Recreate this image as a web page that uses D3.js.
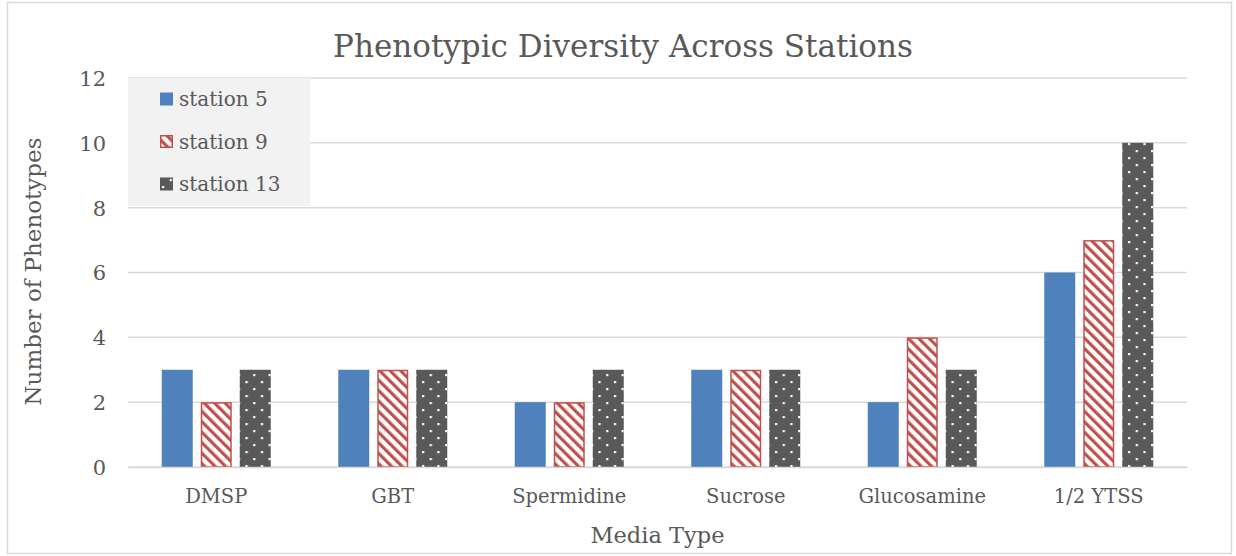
<!DOCTYPE html>
<html>
<head>
<meta charset="utf-8">
<script src="https://cdn.jsdelivr.net/npm/d3@7"></script>
<style>
  html, body { margin: 0; padding: 0; background: #fff; }
  svg { display: block; }
  text { font-family: "DejaVu Serif", "Liberation Serif", serif; fill: #595959; }
</style>
</head>
<body>
<svg id="chart" width="1236" height="556"></svg>
<script>
// Media types along the x axis
const categories = ["DMSP", "GBT", "Spermidine", "Sucrose", "Glucosamine", "1/2 YTSS"];
// Series names
const seriesNames = ["station 5", "station 9", "station 13"];
// Phenotype counts per media type, one array per station
const station5 = [3, 3, 2, 3, 2, 6];
const station9 = [2, 3, 2, 3, 4, 7];
const station13 = [3, 3, 3, 3, 3, 10];
// Y axis ticks
const yTicks = [0, 2, 4, 6, 8, 10, 12];

const seriesValues = [station5, station9, station13];

const W = 1236, H = 556;
const margin = { left: 128, right: 49, top: 78, bottom: 89 };
const plotW = W - margin.left - margin.right;
const plotH = H - margin.top - margin.bottom;

const svg = d3.select("#chart");

// Fill patterns: red diagonal hatch and dark dotted
const defs = svg.append("defs");
const hatch = defs.append("pattern")
  .attr("id", "hatch")
  .attr("patternUnits", "userSpaceOnUse")
  .attr("width", 7.4).attr("height", 7.4)
  .attr("patternTransform", "rotate(-45)");
hatch.append("rect").attr("width", 7.4).attr("height", 7.4).attr("fill", "#ffffff");
hatch.append("rect").attr("x", 0).attr("width", 3.2).attr("height", 7.4).attr("fill", "#c0504d");

const dots = defs.append("pattern")
  .attr("id", "dots")
  .attr("patternUnits", "userSpaceOnUse")
  .attr("width", 15.4).attr("height", 14);
dots.append("rect").attr("width", 15.4).attr("height", 14).attr("fill", "#595959");
dots.append("rect").attr("x", 2).attr("y", 2).attr("width", 2.2).attr("height", 2.2).attr("fill", "#ffffff");
dots.append("rect").attr("x", 9.7).attr("y", 9).attr("width", 2.2).attr("height", 2.2).attr("fill", "#ffffff");

const styles = [
  { fill: "#4f81bd", stroke: "none" },
  { fill: "url(#hatch)", stroke: "#c0504d" },
  { fill: "url(#dots)", stroke: "none" }
];

// Chart frame
svg.append("rect")
  .attr("x", 7.5).attr("y", 2.5)
  .attr("width", 1224).attr("height", 551)
  .attr("fill", "#ffffff")
  .attr("stroke", "#d9d9d9").attr("stroke-width", 1.5);

const g = svg.append("g").attr("transform", `translate(${margin.left},${margin.top})`);

const x0 = d3.scaleBand().domain(categories).range([0, plotW]).paddingInner(0).paddingOuter(0);
const groupW = 109;
const x1 = d3.scaleBand().domain(seriesNames)
  .range([(x0.bandwidth() - groupW) / 2, (x0.bandwidth() + groupW) / 2])
  .paddingInner(8 / 39).paddingOuter(0);
const y = d3.scaleLinear().domain([0, 12]).range([plotH, 0]);

// Gridlines
g.append("g").selectAll("line").data(yTicks).join("line")
  .attr("x1", 0).attr("x2", plotW)
  .attr("y1", d => y(d)).attr("y2", d => y(d))
  .attr("stroke", "#d9d9d9").attr("stroke-width", 1.5);

// Y axis tick labels
const yAxis = g.append("g")
  .call(d3.axisLeft(y).tickValues(yTicks).tickSize(0).tickPadding(22).tickFormat(d3.format("d")));
yAxis.select(".domain").remove();
yAxis.selectAll("text")
  .style("font-size", "21px")
  .style("font-family", "DejaVu Serif")
  .attr("fill", "#595959")
  .attr("dy", "0.35em");

// Bars
const groups = g.append("g").selectAll("g").data(categories).join("g")
  .attr("transform", d => `translate(${x0(d)},0)`);
groups.selectAll("rect")
  .data((c, i) => seriesNames.map((s, j) => ({ s, j, v: seriesValues[j][i] })))
  .join("rect")
  .attr("x", d => x1(d.s) + (d.j === 1 ? 0.75 : 0))
  .attr("width", d => x1.bandwidth() - (d.j === 1 ? 1.5 : 0))
  .attr("y", d => y(d.v) + (d.j === 1 ? 0.75 : 0))
  .attr("height", d => y(0) - y(d.v) - (d.j === 1 ? 0.75 : 0))
  .attr("fill", d => styles[d.j].fill)
  .attr("stroke", d => styles[d.j].stroke)
  .attr("stroke-width", 1.5);

// X axis baseline and labels
const xAxis = g.append("g").attr("transform", `translate(0,${plotH})`)
  .call(d3.axisBottom(x0).tickSize(0).tickPadding(22));
xAxis.select(".domain").attr("stroke", "#d9d9d9").attr("stroke-width", 1.5);
xAxis.selectAll("text")
  .style("font-size", "19.5px")
  .style("font-family", "DejaVu Serif")
  .attr("fill", "#595959")
  .attr("dy", "0.71em");

// Legend
const legend = svg.append("g").attr("transform", "translate(128,78)");
legend.append("rect").attr("width", 182).attr("height", 128).attr("fill", "#f2f2f2");
const items = legend.selectAll("g.item").data(seriesNames).join("g")
  .attr("class", "item")
  .attr("transform", (d, i) => `translate(32,${21 + i * 42.5})`);
items.append("rect")
  .attr("x", (d, i) => i === 1 ? 0.75 : 0)
  .attr("y", (d, i) => -6.5 + (i === 1 ? 0.75 : 0))
  .attr("width", (d, i) => i === 1 ? 11.5 : 13)
  .attr("height", (d, i) => i === 1 ? 11.5 : 13)
  .attr("fill", (d, i) => styles[i].fill)
  .attr("stroke", (d, i) => styles[i].stroke)
  .attr("stroke-width", 1.5);
items.append("text")
  .attr("x", 19).attr("dy", "0.35em")
  .style("font-size", "20px")
  .text(d => d);

// Title
svg.append("text")
  .attr("x", 623).attr("y", 57)
  .attr("text-anchor", "middle")
  .style("font-size", "31px")
  .text("Phenotypic Diversity Across Stations");

// Axis titles
svg.append("text")
  .attr("x", margin.left + plotW / 2).attr("y", 543)
  .attr("text-anchor", "middle")
  .style("font-size", "22.5px")
  .text("Media Type");

svg.append("text")
  .attr("transform", `translate(41,${margin.top + plotH / 2 - 1}) rotate(-90)`)
  .attr("text-anchor", "middle")
  .style("font-size", "23px")
  .text("Number of Phenotypes");
</script>
</body>
</html>
